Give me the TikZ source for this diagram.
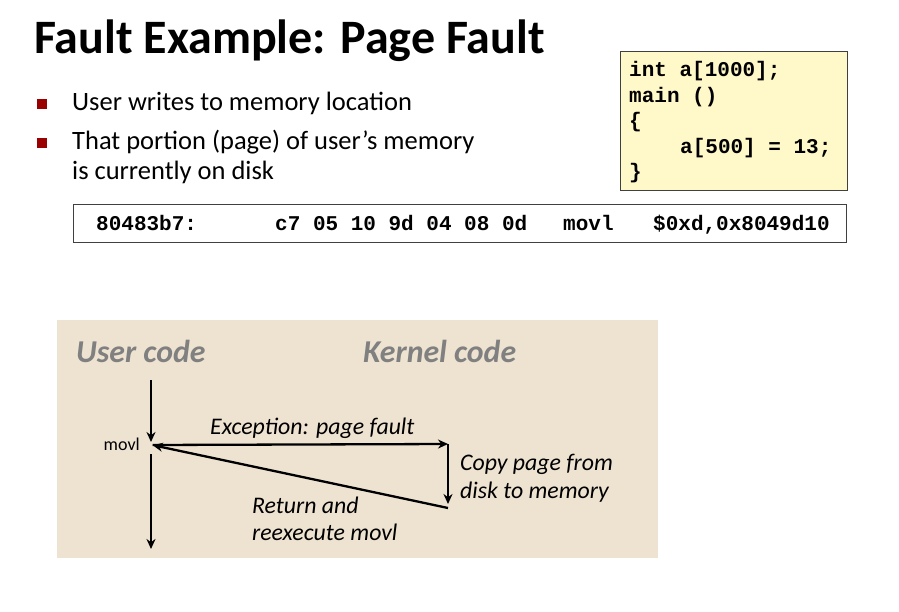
\documentclass[tikz,border=0pt]{standalone}
\usepackage{fontspec}
\setmainfont{Carlito}
\newfontfamily\codefont{Liberation Mono}
\usetikzlibrary{arrows.meta}
\definecolor{bulletred}{HTML}{990000}
\definecolor{codebg}{HTML}{FFF8C8}
\definecolor{panelbg}{HTML}{EEE3D1}
\definecolor{headgray}{HTML}{808080}
\begin{document}
\begin{tikzpicture}[x=1pt,y=-1pt,
  title/.style={anchor=base west,inner sep=0pt,font=\fontsize{48}{52}\selectfont\bfseries},
  bullet/.style={fill=bulletred,minimum size=10pt,inner sep=0pt},
  btext/.style={anchor=base west,inner sep=0pt,font=\fontsize{26.5}{30}\selectfont},
  code/.style={anchor=base west,inner sep=0pt,font=\fontsize{21}{25}\codefont\bfseries},
  head/.style={anchor=base west,inner sep=0pt,text=headgray,font=\fontsize{31.8}{36}\selectfont\bfseries\itshape},
  lbl/.style={anchor=base west,inner sep=0pt,font=\fontsize{23.8}{28}\selectfont\itshape},
  flow/.style={line width=2.3pt,-{Stealth[length=10pt,width=9pt]}}]
\useasboundingbox (0,0) rectangle (899,612);

% title and bullets
\node[title] (t) at (34,54) {Fault Example: Page Fault};
\node[bullet] (b1) at (42,104) {};
\node[btext] (l1) at (72,111) {User writes to memory location};
\node[bullet] (b2) at (42,143) {};
\node[btext] (l2) at (72,150) {That portion (page) of user’s memory};
\node[btext] (l3) at (72,180) {is currently on disk};

% C source box
\draw[fill=codebg,draw=black!75,line width=1pt] (620,52) rectangle (847,191);
\node[code] (c1) at (629,77) {int a[1000];};
\node[code] (c2) at (629,103) {main ()};
\node[code] (c3) at (629,128) {\{};
\node[code] (c4) at (680,154) {a[500] = 13;};
\node[code] (c5) at (629,179) {\}};

% machine instruction box
\draw[draw=black!75,line width=1pt] (73,205) rectangle (846,243);
\node[code] (i1) at (96,231) {80483b7:};
\node[code] (i2) at (275,231) {c7 05 10 9d 04 08 0d};
\node[code] (i3) at (563,231) {movl};
\node[code] (i4) at (653,231) {\$0xd,0x8049d10};

% control-flow panel
\fill[panelbg] (57,320) rectangle (658,558);
\node[head] (hu) at (76,362) {User code};
\node[head] (hk) at (363,362) {Kernel code};

\coordinate (u0) at (151,380);
\node[inner sep=0pt] (mv) at (152,445) {};
\node[anchor=base east,inner sep=0pt,font=\fontsize{18}{20}\selectfont] (ml) at (140,450) {movl};
\coordinate (k0) at (448,444);
\coordinate (k1) at (448,508);
\coordinate (u1) at (151,454);
\coordinate (u2) at (151,549);

\draw[flow] (u0) -- (151,442);
\draw[flow] (mv.east) -- (k0);
\draw[flow] (k0) -- (448,504);
\draw[flow] (k1) -- (mv);
\draw[flow] (u1) -- (u2);

\node[lbl] (e) at (210,434) {Exception: page fault};
\node[lbl] (cp1) at (460,470) {Copy page from};
\node[lbl] (cp2) at (460,498) {disk to memory};
\node[lbl] (r1) at (252,513) {Return and};
\node[lbl] (r2) at (252,540) {reexecute movl};
\end{tikzpicture}
\end{document}
